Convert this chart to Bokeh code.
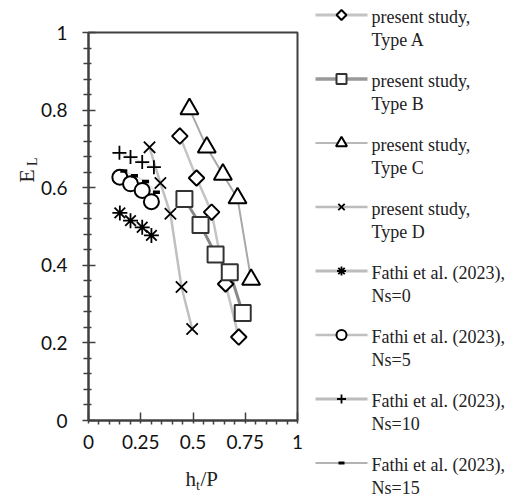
import math
from bokeh.plotting import figure
from bokeh.layouts import row
from bokeh.models import FixedTicker, CustomJSTickFormatter, Label, Range1d
from bokeh.core.properties import value
from bokeh.embed import file_html
from bokeh.resources import INLINE

# ---- data ----
typeA_x = [0.437, 0.517, 0.589, 0.656, 0.719]
typeA_y = [0.733, 0.625, 0.537, 0.352, 0.215]
typeB_x = [0.459, 0.536, 0.608, 0.676, 0.738]
typeB_y = [0.571, 0.504, 0.428, 0.382, 0.277]
typeC_x = [0.483, 0.566, 0.643, 0.713, 0.778]
typeC_y = [0.803, 0.704, 0.634, 0.573, 0.363]
typeD_x = [0.292, 0.344, 0.392, 0.445, 0.496]
typeD_y = [0.704, 0.612, 0.533, 0.344, 0.236]
ns0_x = [0.150, 0.201, 0.257, 0.301]
ns0_y = [0.535, 0.515, 0.498, 0.477]
ns5_x = [0.150, 0.201, 0.257, 0.301]
ns5_y = [0.627, 0.610, 0.593, 0.564]
ns10_x = [0.148, 0.201, 0.257, 0.313]
ns10_y = [0.690, 0.679, 0.666, 0.653]
ns15_x = [0.169, 0.220, 0.273, 0.325]
ns15_y = [0.643, 0.631, 0.616, 0.588]

x_ticks = [0, 0.25, 0.5, 0.75, 1]
x_minor = [0.05, 0.1, 0.15, 0.2, 0.3, 0.35, 0.4, 0.45, 0.55, 0.6, 0.65, 0.7, 0.8, 0.85, 0.9, 0.95]
y_ticks = [0, 0.2, 0.4, 0.6, 0.8, 1]
y_minor = [0.04, 0.08, 0.12, 0.16, 0.24, 0.28, 0.32, 0.36, 0.44, 0.48, 0.52, 0.56,
           0.64, 0.68, 0.72, 0.76, 0.84, 0.88, 0.92, 0.96]

legend_line1 = ["present study,", "present study,", "present study,", "present study,",
                "Fathi et al. (2023),", "Fathi et al. (2023),", "Fathi et al. (2023),",
                "Fathi et al. (2023),"]
legend_line2 = ["Type A", "Type B", "Type C", "Type D", "Ns=0", "Ns=5", "Ns=10", "Ns=15"]

SERIF = "Liberation Serif"
SANS = "Lato"
AX = "#404040"

# ---------------- main plot ----------------
p = figure(width=310, height=499, x_range=(0, 1), y_range=(0, 1),
           output_backend="svg", toolbar_location=None,
           min_border_left=88, min_border_right=13, min_border_top=32, min_border_bottom=79)
p.xgrid.visible = False
p.ygrid.visible = False
p.outline_line_color = AX
p.outline_line_width = 2
p.background_fill_color = "white"
p.border_fill_color = "white"

fmt = CustomJSTickFormatter(code="return String(tick);")
for ax in (p.xaxis[0], p.yaxis[0]):
    ax.axis_line_color = AX
    ax.axis_line_width = 2
    ax.major_tick_line_color = AX
    ax.minor_tick_line_color = AX
    ax.major_tick_line_width = 1.5
    ax.minor_tick_line_width = 1.5
    ax.major_label_text_font = SANS
    ax.major_label_text_font_size = "19px"
    ax.major_label_text_color = "#111"
    ax.formatter = fmt

p.xaxis[0].ticker = FixedTicker(ticks=x_ticks, minor_ticks=x_minor)
p.xaxis[0].major_tick_in = 8
p.xaxis[0].major_tick_out = 3
p.xaxis[0].minor_tick_in = 0
p.xaxis[0].minor_tick_out = 4
p.xaxis[0].major_label_standoff = 10

p.yaxis[0].ticker = FixedTicker(ticks=y_ticks, minor_ticks=y_minor)
p.yaxis[0].major_tick_in = 7
p.yaxis[0].major_tick_out = 6
p.yaxis[0].minor_tick_in = 3
p.yaxis[0].minor_tick_out = 5
p.yaxis[0].major_label_standoff = 15

# style per series: marker, size, angle, marker colour, marker width, line colour, line width,
# legend marker size, legend line colour, legend line width
styles = [
    ("square", 11, math.pi / 4, "black", 2.0, "#c4c4c4", 2.5, 7, "#c4c4c4", 3),
    ("square", 16, 0.0, "#333333", 2.0, "#8a8a8a", 3, 10, "#999999", 3.5),
    ("triangle", 18, 0.0, "black", 2.0, "#a8a8a8", 2, 11, "#b8b8b8", 2),
    ("x", 16, 0.0, "black", 1.8, "#c0c0c0", 2.5, 9, "#bcbcbc", 2.5),
    ("asterisk", 15, 0.0, "black", 1.8, "#e2e2e2", 1.5, 9, "#bcbcbc", 3),
    ("circle", 15, 0.0, "black", 2.0, "#e2e2e2", 1.5, 10, "#c0c0c0", 2.5),
    ("cross", 14, 0.0, "black", 1.8, "#e2e2e2", 1.5, 9, "#bcbcbc", 3),
    ("dash", 7, 0.0, "black", 3.5, "#e2e2e2", 1.5, 6, "#9a9a9a", 1.5),
]
series = [(typeA_x, typeA_y), (typeB_x, typeB_y), (typeC_x, typeC_y), (typeD_x, typeD_y),
          (ns0_x, ns0_y), (ns5_x, ns5_y), (ns10_x, ns10_y), (ns15_x, ns15_y)]

for (xs, ys), st in zip(series, styles):
    mk, sz, ang, mc, mw, lc, lw = st[:7]
    p.line(xs, ys, line_color=lc, line_width=lw)
for (xs, ys), st in zip(series, styles):
    mk, sz, ang, mc, mw, lc, lw = st[:7]
    p.scatter(xs, ys, marker=mk, size=sz, angle=ang, line_color=mc, line_width=mw,
              fill_color="white")

# axis titles with subscripts; spread over side panels that have spare room (data units)
def lab(place, x, y, t, size, align="left", angle=0.0):
    p.add_layout(Label(x=x, y=y, text=t, text_font=SERIF, text_font_size=size,
                       text_align=align, text_baseline="alphabetic", angle=angle,
                       text_color="#222"), place)

lab("below", 0.514, -0.152, "h", "21px", align="right")
lab("right", 0.514, -0.167, "t", "14px")
lab("above", 0.536, -0.152, "/P", "21px")
lab("left", -0.295, 0.63, "E", "22px", align="center", angle=math.pi / 2)
lab("below", -0.270, 0.656, "L", "14px", align="left", angle=math.pi / 2)

# ---------------- legend panel ----------------
q = figure(width=212, height=499, x_range=Range1d(0, 212), y_range=Range1d(499, 0),
           output_backend="svg", toolbar_location=None, min_border=0,
           x_axis_location=None, y_axis_location=None)
q.xgrid.visible = False
q.ygrid.visible = False
q.outline_line_color = None
q.background_fill_color = "white"
q.border_fill_color = "white"
for fig in (p, q):
    try:
        fig.frame_align = False
    except Exception:
        pass

for i, st in enumerate(styles):
    mk, sz, ang, mc, mw, lc, lw, lsz, llc, llw = st
    gy = 14.5 + 64 * i
    q.line([5, 57], [gy, gy], line_color=llc, line_width=llw)
    q.scatter([31], [gy], marker=mk, size=lsz, angle=-ang, line_color=mc,
              line_width=min(mw, 2.0) if mk != "dash" else 3, fill_color="white")
    q.text([61], [gy + 1.5], text=[legend_line1[i]], text_font=value(SERIF),
           text_font_size="18px", text_baseline="alphabetic", text_color="#222")
    q.text([61], [gy + 25], text=[legend_line2[i]], text_font=value(SERIF),
           text_font_size="18px", text_baseline="alphabetic", text_color="#222")

layout = row(p, q)
open("out.html", "w").write(file_html(layout, INLINE))
